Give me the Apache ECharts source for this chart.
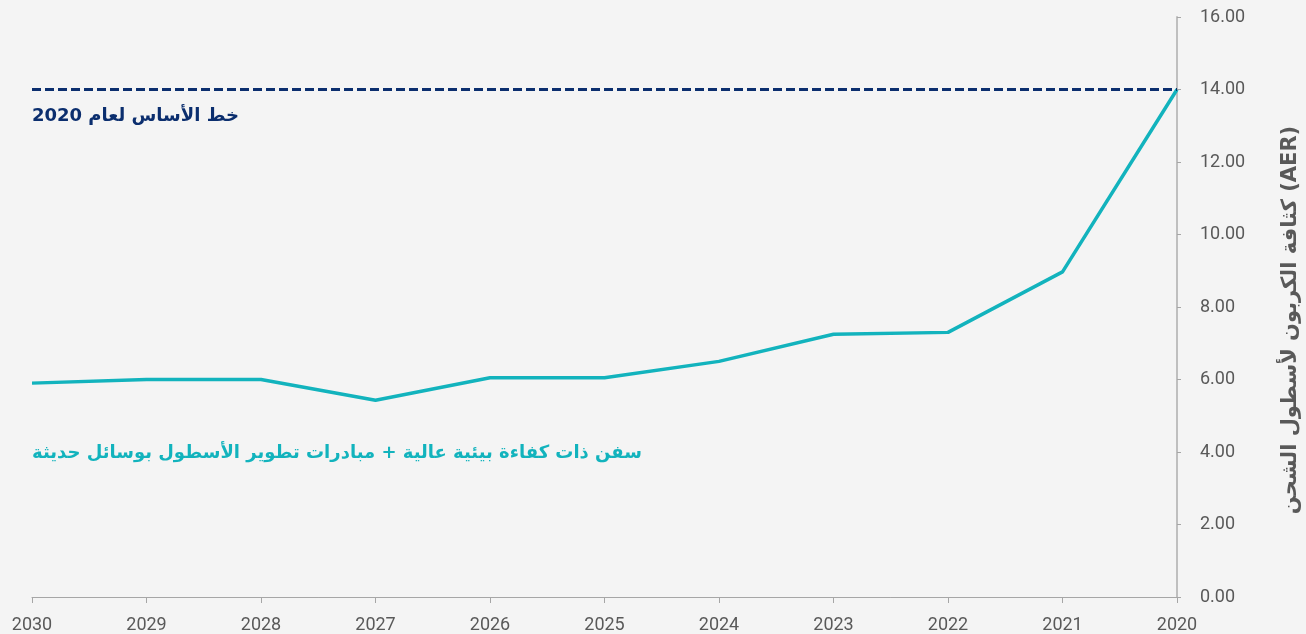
<!DOCTYPE html>
<html><head><meta charset="utf-8">
<script src="https://cdn.jsdelivr.net/npm/echarts@6/dist/echarts.min.js"></script>
<style>html,body{margin:0;padding:0;background:#f4f4f4;}#c{width:1306px;height:634px;}</style>
</head><body><div id="c"></div>
<script>
const years = ['2030','2029','2028','2027','2026','2025','2024','2023','2022','2021','2020'];
const fleetValues = [5.9, 6.0, 6.0, 5.43, 6.05, 6.05, 6.5, 7.25, 7.3, 8.97, 14.0];
const baselineValue = 14.0;
const yTicks = [0, 2, 4, 6, 8, 10, 12, 14, 16];
const baselineLabel = 'خط الأساس لعام 2020';
const fleetLabel = 'سفن ذات كفاءة بيئية عالية + مبادرات تطوير الأسطول بوسائل حديثة';
const yAxisName = 'كثافة الكربون لأسطول الشحن (AER)';

const chart = echarts.init(document.getElementById('c'), null, {renderer:'canvas'});
chart.setOption({
  backgroundColor: '#f4f4f4',
  animation: false,
  grid: {left: 32, right: 129, top: 17, bottom: 37, containLabel: false, outerBoundsMode: 'none'},
  xAxis: {
    type: 'category', data: years, boundaryGap: false,
    axisLine: {lineStyle: {color: '#a6a6a6', width: 1}},
    axisTick: {alignWithLabel: true, length: 6, lineStyle: {color: '#a6a6a6'}},
    axisLabel: {color: '#595959', fontSize: 18, fontFamily: 'Roboto', margin: 19}
  },
  yAxis: {
    type: 'value', position: 'right', min: yTicks[0], max: yTicks[yTicks.length-1], interval: 2,
    axisLine: {show: true, lineStyle: {color: '#bfbfbf', width: 2}},
    axisTick: {show: true, length: 4, lineStyle: {color: '#a6a6a6'}},
    splitLine: {show: false},
    axisLabel: {color: '#595959', fontSize: 18, fontFamily: 'Roboto', margin: 23,
      formatter: v => v.toFixed(2)},
    name: yAxisName, nameLocation: 'middle', nameRotate: 90, nameGap: 103,
    nameTextStyle: {color: '#595959', fontSize: 21, fontFamily: 'DejaVu Sans', fontWeight: 'bold', padding: [0, 26, 0, 0]}
  },
  series: [{
    type: 'line', data: fleetValues, symbol: 'none',
    lineStyle: {color: '#12b3bd', width: 3.5},
    markLine: {
      symbol: 'none', silent: true,
      data: [{yAxis: baselineValue}],
      lineStyle: {color: '#0b2e6e', type: [9, 4], width: 3},
      label: {show: true, position: 'insideStartBottom', formatter: baselineLabel,
        color: '#0b2e6e', fontSize: 18, fontWeight: 'bold', fontFamily: 'DejaVu Sans', distance: [0, 18]}
    }
  }],
  graphic: [{
    type: 'text', left: 32, top: 444,
    style: {text: fleetLabel, fill: '#12b3bd', font: 'bold 18px "DejaVu Sans"'}
  }]
});
</script></body></html>
